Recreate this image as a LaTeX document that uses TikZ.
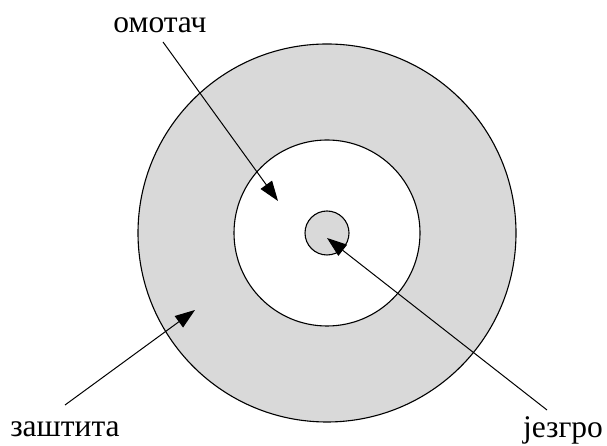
\documentclass[tikz,border=0pt]{standalone}
\usepackage{fontspec}
\setmainfont{Liberation Serif}
\usetikzlibrary{arrows.meta}

\begin{document}
\begin{tikzpicture}[x=1pt, y=1pt, every node/.style={font=\fontsize{31.5}{38}\selectfont, anchor=base, inner sep=0pt},
	pointer/.style={line width=1pt, -{Triangle[length=20pt, width=14pt]}}]
	\useasboundingbox (0,0) rectangle (607,446);
	\fill[black!15] (327,213) circle (189);
	\draw[line width=1.1pt] (327,213) circle (189);
	\fill[white] (327,213) circle (93);
	\draw[line width=1.1pt] (327,213) circle (93);
	\fill[black!15] (327,213) circle (22);
	\draw[line width=1.1pt] (327,213) circle (22);
	\node (omotac) at (160,413) {омотач};
	\node (zastita) at (65,9) {заштита};
	\node (jezgro) at (563,8) {језгро};
	\coordinate (omotacFrom) at (163,404);
	\coordinate (omotacTo) at (278,245);
	\coordinate (zastitaFrom) at (65,41);
	\coordinate (zastitaTo) at (195,136);
	\coordinate (jezgroFrom) at (547,36);
	\coordinate (jezgroTo) at (327,208);
	\draw[pointer] (omotacFrom) -- (omotacTo);
	\draw[pointer] (zastitaFrom) -- (zastitaTo);
	\draw[pointer] (jezgroFrom) -- (jezgroTo);
\end{tikzpicture}
\end{document}
